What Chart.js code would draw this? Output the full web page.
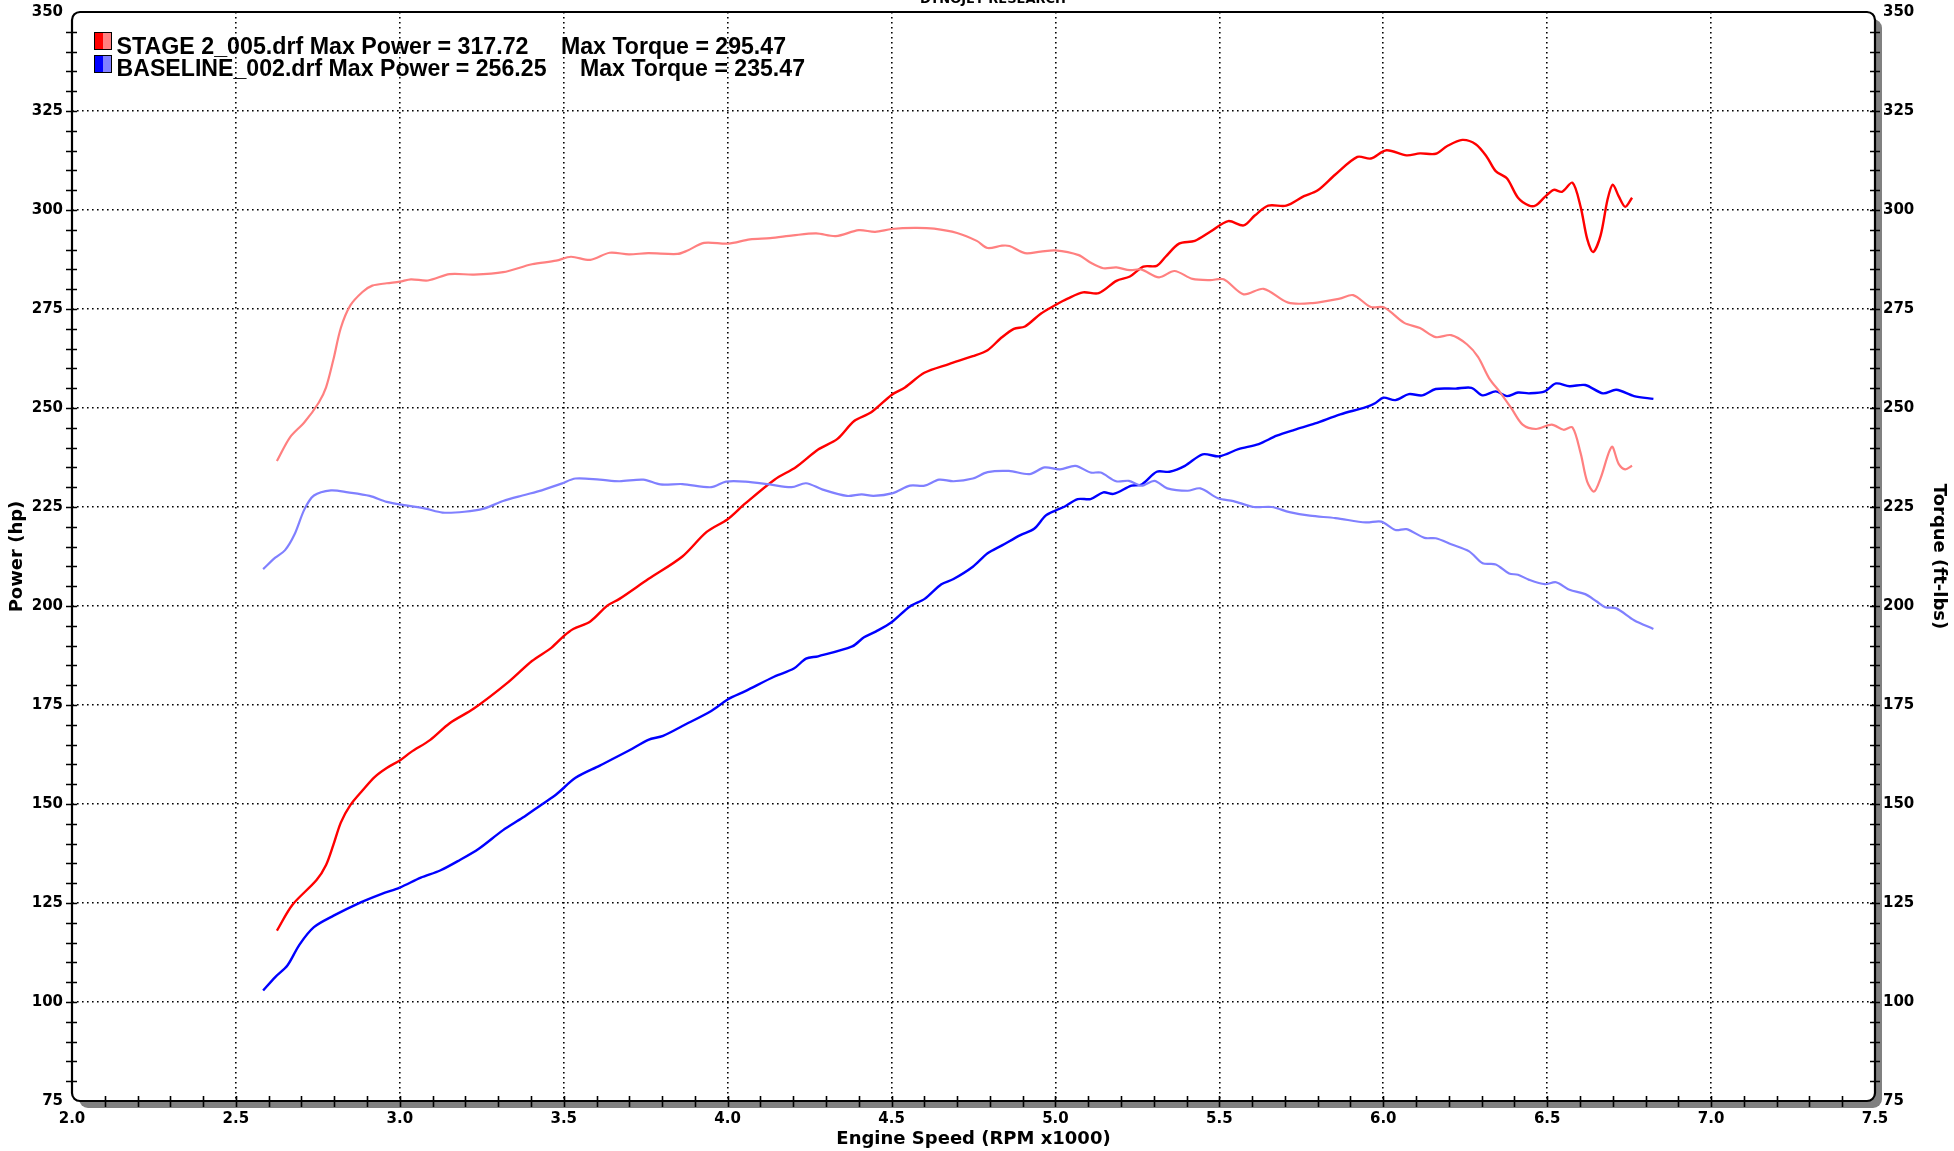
<!DOCTYPE html>
<html><head><meta charset="utf-8">
<script src="https://cdn.jsdelivr.net/npm/chart.js@4.4.0/dist/chart.umd.min.js"></script>
<style>html,body{margin:0;padding:0;background:#fff;overflow:hidden}canvas{display:block}</style>
</head><body>
<canvas id="c" width="1954" height="1151"></canvas>
<script>
// ---- data (RPM x1000, values) ----
const stagePowerRpm = [2.625,2.672,2.746,2.775,2.797,2.820,2.849,2.886,2.923,2.960,3.000,3.034,3.093,3.152,3.226,3.330,3.403,3.463,3.500,3.529,3.581,3.633,3.670,3.758,3.862,3.936,4.000,4.054,4.143,4.209,4.276,4.335,4.386,4.438,4.500,4.541,4.600,4.675,4.748,4.793,4.833,4.873,4.907,4.955,5.000,5.037,5.084,5.132,5.186,5.227,5.268,5.309,5.336,5.377,5.425,5.472,5.527,5.574,5.608,5.649,5.704,5.758,5.799,5.853,5.921,5.962,6.010,6.071,6.112,6.160,6.194,6.241,6.282,6.316,6.343,6.377,6.411,6.445,6.466,6.493,6.520,6.545,6.577,6.602,6.622,6.640,6.663,6.684,6.700,6.718,6.738,6.759];
const stagePowerHp = [118.0,124.5,130.8,134.6,139.6,145.3,149.7,153.4,156.8,159.1,161.0,163.1,166.2,170.4,174.1,180.7,186.1,189.5,192.4,194.2,196.1,200.1,201.8,206.8,212.5,218.7,221.9,225.9,231.9,235.1,239.5,242.2,246.7,248.9,253.3,255.2,258.9,261.1,263.1,264.6,267.6,270.0,270.6,273.8,276.0,277.6,279.2,279.0,282.1,283.2,285.7,285.9,288.2,291.5,292.2,294.5,297.2,296.1,298.6,301.1,301.1,303.5,304.9,308.9,313.4,313.0,315.1,313.8,314.3,314.2,316.1,317.7,316.6,313.4,309.8,308.0,303.1,301.1,301.2,303.3,305.1,304.6,306.9,300.8,292.7,289.4,293.6,302.6,306.4,303.5,300.8,303.1];

const stageTorqueRpm = [2.625,2.665,2.709,2.753,2.775,2.797,2.820,2.849,2.886,2.916,2.960,3.000,3.034,3.086,3.152,3.226,3.315,3.403,3.477,3.522,3.581,3.640,3.699,3.758,3.847,3.876,3.928,4.002,4.068,4.130,4.200,4.270,4.330,4.400,4.450,4.500,4.570,4.630,4.700,4.760,4.793,4.837,4.860,4.907,4.955,5.000,5.071,5.105,5.146,5.186,5.227,5.261,5.316,5.363,5.418,5.472,5.513,5.574,5.635,5.710,5.785,5.867,5.908,5.962,6.003,6.064,6.112,6.160,6.207,6.255,6.289,6.323,6.357,6.391,6.425,6.466,6.514,6.550,6.577,6.602,6.622,6.643,6.663,6.697,6.718,6.738,6.759];
const stageTorqueFt = [236.6,242.6,246.4,251.4,255.2,262.1,270.2,275.9,279.3,280.9,281.5,281.9,282.5,282.2,283.8,283.7,284.3,286.3,287.2,288.2,287.4,289.2,288.8,289.1,288.9,289.7,291.7,291.5,292.6,292.9,293.6,294.1,293.4,294.9,294.5,295.2,295.5,295.3,294.2,292.2,290.4,291.0,290.9,289.1,289.5,289.8,288.6,286.8,285.3,285.5,284.8,285.0,283.0,284.6,282.6,282.3,282.5,278.7,280.1,276.6,276.5,277.6,278.5,275.5,275.4,271.5,270.2,267.9,268.4,266.1,262.9,257.5,253.9,249.9,245.8,244.7,245.8,244.5,245.1,238.6,231.4,228.9,232.3,240.2,235.9,234.5,235.4];

const basePowerRpm = [2.583,2.620,2.657,2.694,2.738,2.798,2.871,2.945,3.000,3.064,3.123,3.182,3.241,3.315,3.374,3.433,3.477,3.536,3.610,3.699,3.758,3.803,3.862,3.950,4.000,4.054,4.143,4.202,4.239,4.276,4.380,4.416,4.453,4.500,4.556,4.601,4.652,4.689,4.748,4.793,4.837,4.893,4.935,4.970,5.000,5.030,5.068,5.107,5.146,5.177,5.232,5.263,5.309,5.348,5.395,5.449,5.500,5.558,5.620,5.675,5.729,5.792,5.869,5.947,5.975,6.000,6.037,6.078,6.119,6.160,6.221,6.269,6.303,6.343,6.377,6.411,6.445,6.493,6.527,6.568,6.616,6.670,6.711,6.765,6.824];
const basePowerHp = [102.9,106.3,109.2,114.5,118.9,121.8,124.8,127.3,128.9,131.4,133.2,135.8,138.7,143.4,146.5,149.9,152.4,156.6,159.7,163.5,166.2,167.2,169.7,173.5,176.4,178.5,182.2,184.2,186.7,187.3,189.8,192.1,193.6,195.9,199.9,201.8,205.5,206.8,209.9,213.3,215.3,217.9,219.5,222.8,224.1,225.2,227.0,227.0,228.7,228.3,230.4,230.7,233.9,233.9,235.4,238.3,237.8,239.6,240.9,243.0,244.5,246.1,248.4,250.2,251.2,252.6,252.0,253.5,253.2,254.8,254.9,255.1,253.2,254.2,253.0,253.9,253.7,254.2,256.2,255.5,255.8,253.7,254.6,253.0,252.3];

const baseTorqueRpm = [2.583,2.620,2.650,2.679,2.709,2.738,2.790,2.842,2.908,2.960,3.019,3.078,3.130,3.197,3.256,3.315,3.374,3.433,3.493,3.536,3.610,3.670,3.743,3.795,3.862,3.950,3.995,4.054,4.128,4.195,4.239,4.290,4.364,4.409,4.445,4.504,4.556,4.601,4.645,4.689,4.748,4.793,4.858,4.921,4.967,5.014,5.061,5.107,5.138,5.185,5.224,5.263,5.302,5.341,5.403,5.442,5.496,5.543,5.605,5.660,5.714,5.776,5.854,5.947,5.994,6.037,6.071,6.126,6.160,6.207,6.262,6.303,6.343,6.384,6.411,6.445,6.493,6.527,6.568,6.616,6.650,6.677,6.711,6.765,6.824];
const baseTorqueFt = [209.3,212.2,214.1,218.1,224.4,227.9,229.2,228.7,227.8,226.3,225.4,224.6,223.6,223.8,224.6,226.5,227.9,229.2,230.9,232.2,231.9,231.5,231.9,230.7,230.8,230.0,231.4,231.4,230.7,230.0,231.0,229.4,227.8,228.2,227.8,228.5,230.4,230.4,231.9,231.5,232.2,233.8,234.1,233.3,235.0,234.5,235.4,233.7,233.7,231.5,231.6,230.4,231.6,229.7,229.1,229.7,227.2,226.5,225.0,225.0,223.7,222.8,222.2,221.1,221.3,219.2,219.4,217.2,217.1,215.6,213.8,210.8,210.5,208.2,207.9,206.6,205.5,206.0,204.1,203.0,201.2,199.7,199.4,196.4,194.2];

const legendRuns = ['STAGE 2_005.drf Max Power = 317.72', 'BASELINE_002.drf Max Power = 256.25'];
const legendTorque = ['Max Torque = 295.47', 'Max Torque = 235.47'];
const titleText = 'DYNOJET RESEARCH';
const xTitle = 'Engine Speed (RPM x1000)';
const yTitle = 'Power (hp)';
const y2Title = 'Torque (ft-lbs)';
const X_MIN = 2.0, X_MAX = 7.5, Y_MIN = 75, Y_MAX = 350;

const pts = (xs, ys) => xs.map((x, i) => ({x, y: ys[i]}));
const tickFont = {family: '"DejaVu Sans", Verdana, sans-serif', size: 15, weight: 'bold'};
const titleFont = {family: '"DejaVu Sans", Verdana, sans-serif', size: 18, weight: 'bold'};
const gridColor = (lo, hi) => (c) => (Math.abs(c.tick.value - lo) < 1e-6 || Math.abs(c.tick.value - hi) < 1e-6) ? 'rgba(0,0,0,0)' : '#000';

const framePlugin = {
  id: 'frame',
  beforeDraw(chart) {
    const {ctx, chartArea: {left, top, right, bottom}} = chart;
    ctx.save();
    ctx.fillStyle = '#fff';
    ctx.fillRect(0, 0, chart.width, chart.height);
    ctx.fillStyle = '#808080';
    ctx.beginPath(); ctx.roundRect(left + 7, top + 7, right - left, bottom - top, 9); ctx.fill();
    ctx.fillStyle = '#fff';
    ctx.beginPath(); ctx.roundRect(left, top, right - left, bottom - top, 9); ctx.fill();
    ctx.restore();
  },
  afterDraw(chart) {
    const {ctx, chartArea: {left, top, right, bottom}, scales: {x, y}} = chart;
    ctx.save();
    ctx.strokeStyle = '#000';
    ctx.lineWidth = 2.2;
    ctx.beginPath(); ctx.roundRect(left, top, right - left, bottom - top, 8); ctx.stroke();
    ctx.lineWidth = 1.6;
    ctx.beginPath();
    for (let v = Y_MIN + 5; v < Y_MAX; v += 5) {
      const py = Math.round(y.getPixelForValue(v)) + 0.5;
      ctx.moveTo(left - 6, py); ctx.lineTo(left + 5, py);
      ctx.moveTo(right - 5, py); ctx.lineTo(right + 5, py);
    }
    for (let i = 21; i < 75; i++) {
      const px = Math.round(x.getPixelForValue(i / 10)) + 0.5;
      ctx.moveTo(px, bottom - 5); ctx.lineTo(px, bottom + 6);
    }
    ctx.stroke();
    ctx.fillStyle = '#000';
    ctx.font = 'bold 13px "DejaVu Sans", sans-serif';
    ctx.textAlign = 'center';
    ctx.textBaseline = 'alphabetic';
    ctx.fillText(titleText, 993, 3);
    const swatches = [['#ff0000', '#ff8080'], ['#0000ff', '#8080ff']];
    const rows = [{yb: 53.5, sy: 32, w1: 412, tx: 561}, {yb: 76, sy: 55, w1: 430, tx: 580}];
    ctx.font = 'bold 23px "Liberation Sans", Arial, sans-serif';
    ctx.textAlign = 'left';
    rows.forEach((r, i) => {
      ctx.fillStyle = swatches[i][0];
      ctx.fillRect(94, r.sy, 9, 17);
      ctx.fillStyle = swatches[i][1];
      ctx.fillRect(103, r.sy, 9, 17);
      ctx.strokeStyle = '#000'; ctx.lineWidth = 1;
      ctx.strokeRect(94.5, r.sy + 0.5, 17, 17);
      ctx.fillStyle = '#000';
      const fit = (t, tx, w) => {
        const m = ctx.measureText(t).width;
        ctx.save(); ctx.translate(tx, r.yb); ctx.scale(w / m, 1); ctx.fillText(t, 0, 0); ctx.restore();
      };
      fit(legendRuns[i], 116.5, r.w1);
      fit(legendTorque[i], r.tx, 225);
    });
    ctx.restore();
  }
};

const noPadV = s => { s.paddingTop = 0; s.paddingBottom = 0; };

new Chart(document.getElementById('c'), {
  type: 'line',
  data: {
    datasets: [
      {label: 'STAGE 2 Torque', data: pts(stageTorqueRpm, stageTorqueFt), yAxisID: 'y2', borderColor: '#ff8080', borderWidth: 2.2},
      {label: 'BASELINE Torque', data: pts(baseTorqueRpm, baseTorqueFt), yAxisID: 'y2', borderColor: '#8080ff', borderWidth: 2.2},
      {label: 'BASELINE Power', data: pts(basePowerRpm, basePowerHp), yAxisID: 'y', borderColor: '#0000ff', borderWidth: 2.4},
      {label: 'STAGE 2 Power', data: pts(stagePowerRpm, stagePowerHp), yAxisID: 'y', borderColor: '#ff0000', borderWidth: 2.4}
    ]
  },
  options: {
    responsive: false,
    animation: false,
    devicePixelRatio: 1,
    parsing: false,
    elements: {point: {radius: 0}, line: {tension: 0.3, fill: false}},
    layout: {padding: {left: 0, right: 0, top: 12, bottom: 0}},
    plugins: {legend: {display: false}, tooltip: {enabled: false}, title: {display: false}},
    scales: {
      x: {
        type: 'linear', min: X_MIN, max: X_MAX,
        ticks: {stepSize: 0.5, autoSkip: false, maxRotation: 0, padding: 9, color: '#000', font: tickFont,
                callback: v => Number(v).toFixed(1)},
        grid: {drawTicks: false, color: gridColor(X_MIN, X_MAX), lineWidth: 1.6},
        border: {display: false, dash: [1.6, 3.4]},
        title: {display: true, text: xTitle, color: '#000', font: titleFont, padding: {top: 0, bottom: 1}},
        afterFit(s) { s.height = 50; s.paddingLeft = 0; s.paddingRight = 0; }
      },
      y: {
        type: 'linear', position: 'left', min: Y_MIN, max: Y_MAX,
        ticks: {stepSize: 25, padding: 9, color: '#000', font: tickFont},
        grid: {drawTicks: false, color: gridColor(Y_MIN, Y_MAX), lineWidth: 1.6},
        border: {display: false, dash: [1.6, 3.4]},
        title: {display: true, text: yTitle, color: '#000', font: titleFont, padding: {top: 7, bottom: 0}},
        afterFit(s) { s.width = 72; noPadV(s); }
      },
      y2: {
        type: 'linear', position: 'right', min: Y_MIN, max: Y_MAX,
        ticks: {stepSize: 25, padding: 8, color: '#000', font: tickFont},
        grid: {display: false, drawTicks: false},
        border: {display: false},
        title: {display: true, text: y2Title, color: '#000', font: titleFont, padding: {top: 5, bottom: 0}},
        afterFit(s) { s.width = 79; noPadV(s); }
      }
    }
  },
  plugins: [framePlugin]
});
</script>
</body></html>
